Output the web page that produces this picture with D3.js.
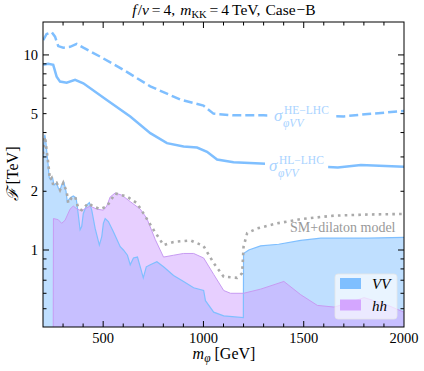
<!DOCTYPE html>
<html><head><meta charset="utf-8">
<script src="https://cdn.jsdelivr.net/npm/d3@7/dist/d3.min.js"></script>
<style>body{margin:0;background:#fff}svg{display:block}text{font-family:"Liberation Serif","DejaVu Serif",serif}</style>
</head><body><svg id="c" width="424" height="371"></svg>
<script>
// ---- data (m_phi in GeV, F in TeV) ----
const heMass = [201,218,243,260,276,301,335,368,401,485,600,735,885,1000,1050,1150,1300,1700,1820,2000];
const heF    = [11.9,12.8,13.1,12.4,11.1,10.9,11.0,11.4,10.9,9.8,8.4,6.9,5.9,5.5,5.0,4.9,4.9,4.84,4.98,5.16];
const hlMass = [201,226,251,268,285,318,360,401,518,635,735,818,901,968,1018,1068,1150,1285,1670,1785,2000];
const hlF    = [8.9,9.0,8.9,7.74,7.3,7.2,7.45,7.16,5.88,4.83,3.97,3.53,3.39,3.35,3.19,2.91,2.82,2.78,2.65,2.73,2.67];
const vvMass = [200,203,209,214,220,226,231,238,248,255,268,276,285,293,305,315,321,335,351,365,371,385,393,401,418,431,443,460,481,493,501,510,526,551,585,601,621,635,651,671,685,700,715,735,768,801,851,901,951,1001,1010,1051,1101,1199,1200,1226,1285,1375,1485,1585,1818,2000];
const vvF    = [3.0,3.4,3.9,3.6,3.1,2.7,2.35,2.29,2.34,2.15,2.21,2.08,2.03,2.15,2.21,1.99,1.77,1.85,1.89,1.85,1.67,1.27,1.32,1.54,1.70,1.75,1.60,1.29,1.06,1.17,1.37,1.45,1.40,1.24,1.04,1.0,0.94,0.84,0.91,0.92,0.82,0.72,0.82,0.84,0.87,0.82,0.74,0.69,0.64,0.62,0.55,0.48,0.46,0.45,0.96,1.0,1.05,1.07,1.12,1.15,1.15,1.16];
const hhMass = [251,252,276,293,310,335,351,370,385,401,435,468,501,518,535,560,593,635,685,718,760,801,851,901,951,1001,1051,1101,1135,1200,1285,1401,1485,1568,1651,1735,1801,1901,2000];
const hhF    = [0.403,1.45,1.43,1.37,1.42,1.62,1.68,1.62,1.60,1.61,1.68,1.62,1.60,1.68,1.87,1.96,1.91,1.77,1.62,1.45,1.13,0.92,0.94,0.96,0.96,0.91,0.75,0.62,0.60,0.60,0.63,0.69,0.59,0.52,0.51,0.54,0.57,0.53,0.48];
const dilMass = [200,205,210,218,226,235,243,251,268,285,301,318,326,343,360,376,393,426,451,485,518,560,618,668,701,751,801,851,935,1000,1051,1101,1168,1193,1200,1218,1268,1368,1485,1650,1818,2000];
const dilF    = [3.1,3.5,3.81,3.26,2.79,2.29,2.34,2.15,2.21,2.03,2.21,1.99,1.74,1.85,1.88,1.64,1.60,1.74,1.67,1.62,1.67,1.95,1.88,1.74,1.54,1.27,1.06,1.10,1.12,1.05,0.857,0.73,0.72,0.76,1.04,1.22,1.29,1.37,1.44,1.50,1.52,1.53];
const xTickLabels = [500,1000,1500,2000];
const yTickLabels = [1,2,5,10];
const legendItems = ["VV","hh"];

// ---- layout ----
const svg = d3.select("#c");
const L=43, R=404, T=22, B=327;
const x = d3.scaleLinear().domain([200,2000]).range([L,R]);
const y = d3.scaleLog().domain([0.403,14.75]).range([B,T]);
const blue="#7fbfff", purple="#c79bf2";

svg.append("defs").append("clipPath").attr("id","clip")
  .append("rect").attr("x",L).attr("y",T).attr("width",R-L).attr("height",B-T);
const g = svg.append("g").attr("clip-path","url(#clip)");

const zip=(a,b)=>a.map((m,i)=>[m,b[i]]);
const vv=zip(vvMass,vvF), hh=zip(hhMass,hhF), he=zip(heMass,heF), hl=zip(hlMass,hlF), dil=zip(dilMass,dilF);
const area=d3.area().x(d=>x(d[0])).y0(B).y1(d=>y(d[1]));
const line=d3.line().x(d=>x(d[0])).y(d=>y(d[1]));

g.append("path").attr("d",area(vv)).attr("fill",blue).attr("fill-opacity",0.5);
g.append("path").attr("d",area(hh)).attr("fill","#cf9fff").attr("fill-opacity",0.5);
g.append("path").attr("d",line(vv)).attr("fill","none").attr("stroke",blue).attr("stroke-width",1.2);
g.append("path").attr("d",line(hh)).attr("fill","none").attr("stroke",purple).attr("stroke-width",1);
g.append("path").attr("d",line(dil)).attr("fill","none").attr("stroke","#aaaaaa").attr("stroke-width",2.6).attr("stroke-dasharray","2.6,4.2");
g.append("path").attr("d",line(hl)).attr("fill","none").attr("stroke",blue).attr("stroke-width",2.5);
g.append("path").attr("d",line(he)).attr("fill","none").attr("stroke",blue).attr("stroke-width",2.5).attr("stroke-dasharray","9,4");

// inline curve labels with white background
function sigmaLabel(x0, yb, sup){
  const grp = g.append("g");
  const bg = grp.append("rect").attr("fill","#fff");
  const t = grp.append("g").attr("fill","#a9d3ff");
  t.append("text").attr("x",x0).attr("y",yb).attr("font-size",17).attr("font-style","italic").text("σ");
  t.append("text").attr("x",x0+10).attr("y",yb-7).attr("font-size",11.5).text(sup);
  t.append("text").attr("x",x0+9).attr("y",yb+6).attr("font-size",11.5).attr("font-style","italic").text("φVV");
  const bb = t.node().getBBox();
  bg.attr("x",bb.x-4).attr("y",bb.y).attr("width",bb.width+8).attr("height",bb.height);
}
sigmaLabel(274,121,"HE−LHC");
sigmaLabel(269,171,"HL−LHC");

svg.append("text").attr("x",290).attr("y",232).attr("font-size",14).attr("fill","#999").text("SM+dilaton model");

// ---- axes frame & ticks ----
const ax = svg.append("g").attr("stroke","#000").attr("stroke-width",1);
ax.append("rect").attr("x",L).attr("y",T).attr("width",R-L).attr("height",B-T).attr("fill","none");
const xMinor = d3.range(300,2000,100);
xMinor.forEach(v=>{
  const len = xTickLabels.includes(v)?6:3.5;
  ax.append("line").attr("x1",x(v)).attr("x2",x(v)).attr("y1",B).attr("y2",B-len);
  ax.append("line").attr("x1",x(v)).attr("x2",x(v)).attr("y1",T).attr("y2",T+len);
});
const yTicks = [0.5,0.6,0.7,0.8,0.9,1,2,3,4,5,6,7,8,9,10];
yTicks.forEach(v=>{
  const len = (v===1||v===10)?6:3.5;
  ax.append("line").attr("x1",L).attr("x2",L+len).attr("y1",y(v)).attr("y2",y(v));
  ax.append("line").attr("x1",R).attr("x2",R-len).attr("y1",y(v)).attr("y2",y(v));
});
xTickLabels.forEach(v=>{
  svg.append("text").attr("x",x(v)).attr("y",B+16).attr("text-anchor","middle").attr("font-size",14.5).text(v);
});
yTickLabels.forEach(v=>{
  svg.append("text").attr("x",L-5).attr("y",y(v)+5).attr("text-anchor","end").attr("font-size",14.5).text(v);
});

// sequential inline layout of text segments, centred on cx
function richText(cx, yb, segs){
  const grp = svg.append("g");
  let cur = 0; const nodes=[];
  segs.forEach(s=>{
    const t = grp.append("text").attr("x",cur).attr("y",yb+(s.dy||0)).attr("font-size",s.size)
      .attr("font-style",s.it?"italic":"normal").text(s.t);
    cur += t.node().getComputedTextLength() + (s.gap||0);
    nodes.push(t);
  });
  const shift = cx - cur/2;
  nodes.forEach(t=>t.attr("x",+t.attr("x")+shift));
}
richText(224, 359, [
  {t:"m",size:16,it:true},{t:"φ",size:11.5,it:true,dy:3,gap:4},{t:"[GeV]",size:16}
]);
richText(224, 15, [
  {t:"f",size:15.5,it:true,gap:1},{t:"/",size:15.5},{t:"v",size:15.5,it:true,gap:3},{t:"=",size:15.5,gap:3},
  {t:"4,",size:15.5,gap:5},{t:"m",size:15.5,it:true},{t:"KK",size:10.5,dy:3,gap:3},{t:"=",size:15.5,gap:3},
  {t:"4",size:15.5,gap:3},{t:"TeV,",size:15.5,gap:5},{t:"Case",size:15.5,gap:1},{t:"−B",size:15.5}
]);
svg.append("text").attr("transform","translate(18,174) rotate(-90)").attr("text-anchor","middle").attr("font-size",16)
  .html('<tspan font-style="italic">ℱ</tspan> [TeV]');

// legend
const lg = svg.append("g");
lg.append("rect").attr("x",335).attr("y",274).attr("width",62).attr("height",45).attr("rx",3)
  .attr("fill","#fff").attr("fill-opacity",0.65).attr("stroke","#e6e6e6").attr("stroke-width",0.8);
const lcol=[blue,"#d4a6ff"];
legendItems.forEach((s,i)=>{
  lg.append("rect").attr("x",340).attr("y",278+i*21.5).attr("width",21).attr("height",11).attr("fill",lcol[i]);
  lg.append("text").attr("x",372).attr("y",289+i*21.5).attr("font-size",15).attr("font-style","italic").text(s);
});
</script></body></html>
